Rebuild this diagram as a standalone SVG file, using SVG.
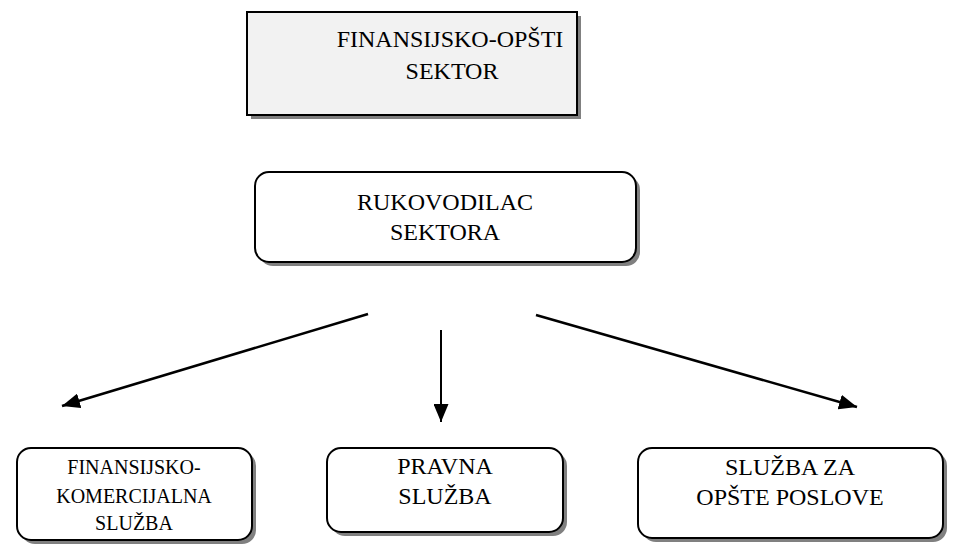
<svg xmlns="http://www.w3.org/2000/svg" width="954" height="552" viewBox="0 0 954 552">
<defs>
<style>
.shadow{fill:#808080;stroke:none}
.box{fill:#ffffff;stroke:#000;stroke-width:2}
.title{fill:#f2f2f2;stroke:#000;stroke-width:2}
.t{font-family:"Liberation Serif","Times New Roman",serif;font-size:24px;fill:#000;text-anchor:middle}
.ts{font-family:"Liberation Serif","Times New Roman",serif;font-size:20px;fill:#000;text-anchor:middle}
.conn{stroke:#000;stroke-width:2.5;fill:none}
</style>
<marker id="head" viewBox="0 0 18 15" refX="18" refY="7.5" markerWidth="18" markerHeight="15" orient="auto" markerUnits="userSpaceOnUse">
<path d="M0,0 L18,7.5 L0,15 Z" fill="#000"/>
</marker>
</defs>

<g id="finansijsko-opsti-sektor">
<rect class="shadow" x="251" y="16" width="330" height="103"/>
<rect class="title" x="247" y="12" width="330" height="103"/>
<text class="t" x="450" y="47">FINANSIJSKO-OPŠTI</text>
<text class="t" x="452" y="79">SEKTOR</text>
</g>

<g id="rukovodilac-sektora">
<rect class="shadow" x="259" y="176" width="381" height="90" rx="14"/>
<rect class="box" x="255" y="172" width="381" height="90" rx="14"/>
<text class="t" x="445" y="210">RUKOVODILAC</text>
<text class="t" x="445" y="240">SEKTORA</text>
</g>

<g id="finansijsko-komercijalna-sluzba">
<rect class="shadow" x="21" y="452" width="235" height="92" rx="14"/>
<rect class="box" x="17" y="448" width="235" height="92" rx="14"/>
<text class="ts" x="134" y="474">FINANSIJSKO-</text>
<text class="ts" x="134" y="503">KOMERCIJALNA</text>
<text class="ts" x="134" y="530">SLUŽBA</text>
</g>

<g id="pravna-sluzba">
<rect class="shadow" x="331" y="452" width="236" height="84" rx="14"/>
<rect class="box" x="327" y="448" width="236" height="84" rx="14"/>
<text class="t" x="445" y="474">PRAVNA</text>
<text class="t" x="445" y="504">SLUŽBA</text>
</g>

<g id="sluzba-za-opste-poslove">
<rect class="shadow" x="642" y="452" width="305" height="90" rx="14"/>
<rect class="box" x="638" y="448" width="305" height="90" rx="14"/>
<text class="t" x="790" y="475">SLUŽBA ZA</text>
<text class="t" x="790" y="505">OPŠTE POSLOVE</text>
</g>

<g id="connectors">
<line class="conn" x1="368" y1="314" x2="62" y2="406" marker-end="url(#head)"/>
<line class="conn" x1="441" y1="330" x2="441" y2="422" marker-end="url(#head)" style="stroke-width:2"/>
<line class="conn" x1="536" y1="315" x2="857" y2="407" marker-end="url(#head)"/>
</g>
</svg>
